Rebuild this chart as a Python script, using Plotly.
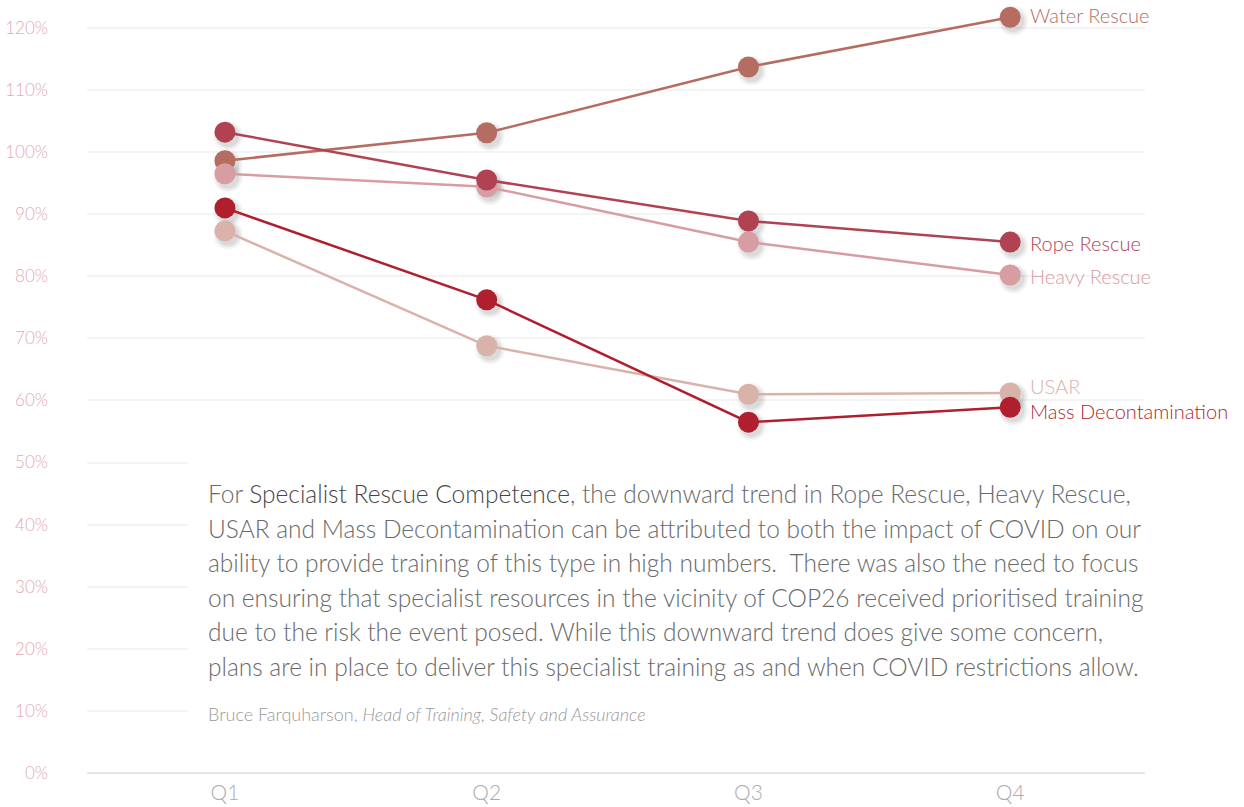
import plotly.graph_objects as go

# Quarterly competence levels (%) for each specialist rescue discipline
quarters = ["Q1", "Q2", "Q3", "Q4"]
water_rescue = [98.6, 103.1, 113.7, 121.7]
rope_rescue = [103.2, 95.5, 88.9, 85.5]
heavy_rescue = [96.5, 94.4, 85.5, 80.2]
usar = [87.3, 68.8, 61.0, 61.2]
mass_decon = [91.0, 76.2, 56.5, 58.9]

y_ticks = [0, 10, 20, 30, 40, 50, 60, 70, 80, 90, 100, 110, 120]

series = [
    # name, values, colour, label y-shift (px)
    ("Water Rescue", water_rescue, "#B56D62", 2),
    ("Heavy Rescue", heavy_rescue, "#D79DA2", -1),
    ("USAR", usar, "#D9B2AA", 7),
    ("Rope Rescue", rope_rescue, "#B14252", -1),
    ("Mass Decontamination", mass_decon, "#AF1F2E", -4),
]

W, H = 1244, 807
L, R, T, B = 87, 99, 3, 34
plot_w, plot_h = W - L - R, H - T - B


def px_x(x):
    return (x - L) / plot_w


def px_y(y):
    return (H - B - y) / plot_h


fig = go.Figure()
xi = list(range(len(quarters)))

# soft drop shadows under the markers
for name, vals, col, _ in series:
    for size, op in [(30, 0.035), (26, 0.05), (22, 0.06)]:
        fig.add_trace(go.Scatter(
            x=[v + 0.012 for v in xi], y=[v - 0.6 for v in vals],
            mode="markers", hoverinfo="skip", showlegend=False,
            marker=dict(size=size, color=f"rgba(0,0,0,{op})", line=dict(width=0)),
            cliponaxis=False,
        ))

for name, vals, col, _ in series:
    fig.add_trace(go.Scatter(
        x=xi, y=vals, mode="lines+markers", name=name, showlegend=False,
        line=dict(color=col, width=2.5),
        marker=dict(size=21, color=col, line=dict(width=0)),
        cliponaxis=False,
    ))

annotations = []
for name, vals, col, ys in series:
    annotations.append(dict(
        x=xi[-1], y=vals[-1], xref="x", yref="y", text=name, showarrow=False,
        xanchor="left", yanchor="middle", xshift=18, yshift=ys,
        font=dict(family="Lato", size=20, color=col, weight=300),
    ))

body_lines = [
    "For <span style='color:#454545'>Specialist Rescue Competence</span>, the downward trend in Rope Rescue, Heavy Rescue,",
    "USAR and Mass Decontamination can be attributed to both the impact of COVID on our",
    "ability to provide training of this type in high numbers.&nbsp; There was also the need to focus",
    "on ensuring that specialist resources in the vicinity of COP26 received prioritised training",
    "due to the risk the event posed. While this downward trend does give some concern,",
    "plans are in place to deliver this specialist training as and when COVID restrictions allow.",
]
line_y = [493, 528, 562, 597, 631, 666]
for txt, yy in zip(body_lines, line_y):
    annotations.append(dict(
        x=px_x(206), y=px_y(yy), xref="paper", yref="paper", text=txt,
        showarrow=False, xanchor="left", yanchor="middle",
        font=dict(family="Lato", size=24.5, color="#6a6a6a", weight=300),
    ))

annotations.append(dict(
    x=px_x(206), y=px_y(714), xref="paper", yref="paper",
    text="Bruce Farquharson, <i>Head of Training, Safety and Assurance</i>",
    showarrow=False, xanchor="left", yanchor="middle",
    font=dict(family="Lato", size=18, color="#9a9a9a", weight=300),
))

fig.update_layout(
    width=W, height=H,
    margin=dict(l=L, r=R, t=T, b=B, pad=0, autoexpand=False),
    paper_bgcolor="white", plot_bgcolor="white",
    annotations=annotations,
    shapes=[dict(
        type="rect", xref="paper", yref="paper", layer="above",
        x0=px_x(188), x1=px_x(1160), y0=px_y(745), y1=px_y(452),
        fillcolor="white", line=dict(width=0),
    )],
    xaxis=dict(
        range=[-0.527, 3.515], tickmode="array", tickvals=xi, ticktext=quarters,
        showgrid=False, zeroline=False, showline=False, ticks="",
        tickfont=dict(family="Lato", size=21, color="#ababab", weight=300),
        ticklabelstandoff=5, automargin=False,
    ),
    yaxis=dict(
        range=[0, 124], tickmode="array", tickvals=y_ticks,
        ticktext=[f"{v}%" for v in y_ticks],
        showgrid=True, gridcolor="#f4f4f4", gridwidth=2,
        zeroline=True, zerolinecolor="#e6e6e6", zerolinewidth=2,
        showline=False, ticks="",
        tickfont=dict(family="Lato", size=17, color="#E3AAB5", weight=300),
        ticklabelstandoff=38, automargin=False,
    ),
    font=dict(family="Lato"),
)

fig.write_html("out.html")
